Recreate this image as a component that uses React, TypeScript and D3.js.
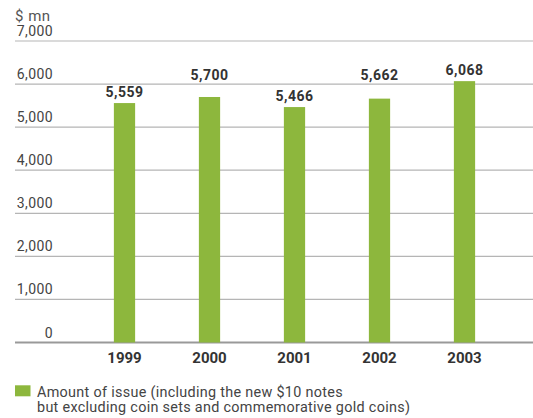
import React from "react";
import * as d3 from "d3";

const years = ["1999", "2000", "2001", "2002", "2003"];
const values = [5559, 5700, 5466, 5662, 6068];
const yTicks = [0, 1000, 2000, 3000, 4000, 5000, 6000, 7000];
const unitLabel = "$ mn";
const legendLines = [
  "Amount of issue (including the new $10 notes",
  "but excluding coin sets and commemorative gold coins)",
];

export default function App() {
  const W = 533, H = 418;
  const x = d3.scaleBand<string>().domain(years).range([82, 507]).paddingInner(0.75).paddingOuter(0.375);
  const y = d3.scaleLinear().domain([0, 7000]).range([342.5, 41]);
  const fmt = d3.format(",");
  const green = "#8db73d";
  const font = "Roboto, 'DejaVu Sans', sans-serif";
  // place value labels just above bars, but lift them above a gridline they would cross
  const labelY = (v: number) => {
    let b = y(v) - 6;
    for (const t of yTicks) {
      const g = y(t);
      if (b > g - 1 && b - 11 < g + 1) b = g - 4.5;
    }
    return b;
  };
  return (
    <svg width={W} height={H} style={{ position: "absolute", left: 0, top: 0 }} fontFamily={font}>
      <text x={15} y={20.5} fontSize={15} fill="#555" letterSpacing={0.5}>{unitLabel}</text>
      {yTicks.map((t) => (
        <g key={t}>
          <line x1={15} x2={533} y1={y(t)} y2={y(t)} stroke={t === 0 ? "#999" : "#b5b5b5"} strokeWidth={t === 0 ? 2 : 1.2} />
          <text x={53} y={y(t) - 5} textAnchor="end" fontSize={14} letterSpacing={0.4} fill="#444">{fmt(t)}</text>
        </g>
      ))}
      {years.map((yr, i) => (
        <g key={yr}>
          <rect x={x(yr)} y={y(values[i])} width={x.bandwidth()} height={y(0) - y(values[i])} fill={green} />
          <text x={(x(yr) as number) + x.bandwidth() / 2} y={labelY(values[i])} textAnchor="middle" fontSize={14} letterSpacing={0.5} fontWeight="bold" fill="#333">{fmt(values[i])}</text>
          <text x={(x(yr) as number) + x.bandwidth() / 2} y={363} textAnchor="middle" fontSize={15} fontWeight="bold" fill="#333">{yr}</text>
        </g>
      ))}
      <rect x={15} y={385.3} width={15.5} height={11} fill={green} />
      {legendLines.map((l, i) => (
        <text key={i} x={37} y={397 + i * 15.3} fontSize={14.4} letterSpacing={0.3} fill="#444">{l}</text>
      ))}
    </svg>
  );
}
